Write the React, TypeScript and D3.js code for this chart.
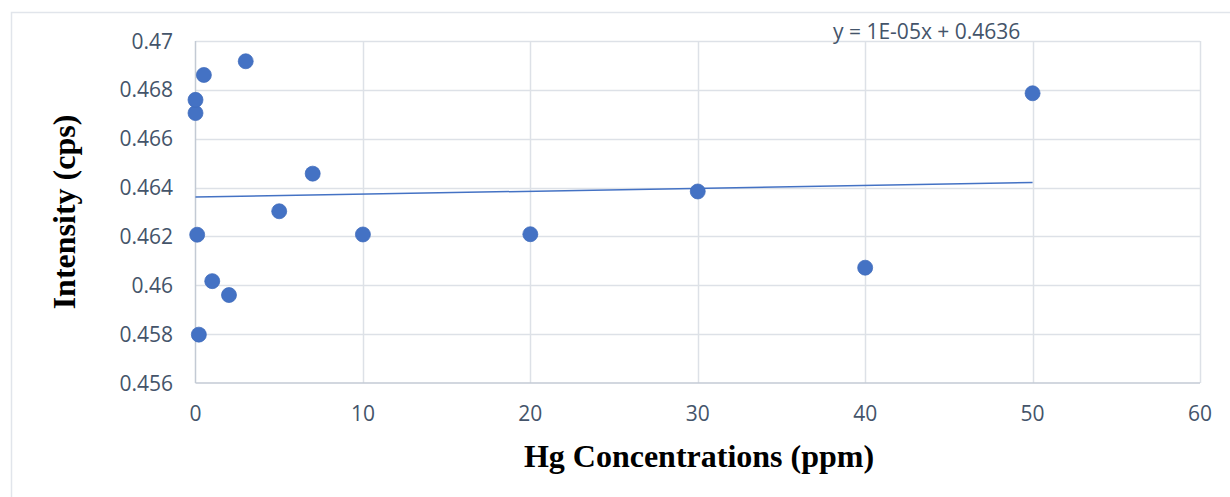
import React, { useRef, useEffect } from 'react'
import * as d3 from 'd3'

// Hg concentration (ppm) vs. intensity (cps)
const concentrations = [0, 0, 0.5, 3, 7, 5, 0.1, 10, 1, 2, 0.2, 20, 30, 40, 50]
const intensities = [
  0.46705, 0.46759, 0.46861, 0.46917, 0.46457, 0.46303, 0.46207, 0.46208, 0.46017, 0.4596,
  0.45798, 0.46209, 0.46384, 0.46072, 0.46786,
]

const xTicks = [0, 10, 20, 30, 40, 50, 60]
const yTicks = [0.456, 0.458, 0.46, 0.462, 0.464, 0.466, 0.468, 0.47]

// linear trendline (Excel)
const trendSlope = 1.2e-5
const trendIntercept = 0.46361
const trendLabel = 'y = 1E-05x + 0.4636'

const xTitle = 'Hg Concentrations (ppm)'
const yTitle = 'Intensity (cps)'

const width = 1230
const height = 497

export default function App() {
  const svgRef = useRef<SVGSVGElement>(null)

  useEffect(() => {
    if (!svgRef.current) return
    const svg = d3.select(svgRef.current)
    svg.selectAll('*').remove()

    const plot = { left: 195.5, right: 1200, top: 41, bottom: 383 }

    const x = d3.scaleLinear().domain([0, 60]).range([plot.left, plot.right])
    const y = d3.scaleLinear().domain([0.456, 0.47]).range([plot.bottom, plot.top])

    // chart frame
    svg
      .append('rect')
      .attr('x', 11.5)
      .attr('y', 12.5)
      .attr('width', width)
      .attr('height', height)
      .attr('fill', 'white')
      .attr('stroke', '#E1E5EB')
      .attr('stroke-width', 1.5)

    const grid = svg.append('g')

    // horizontal gridlines
    grid
      .selectAll('.hgrid')
      .data(yTicks.slice(1))
      .enter()
      .append('line')
      .attr('x1', plot.left)
      .attr('x2', plot.right)
      .attr('y1', d => Math.round(y(d)) + 0.5)
      .attr('y2', d => Math.round(y(d)) + 0.5)
      .attr('stroke', '#DDE1E7')
      .attr('stroke-width', 1.5)

    // vertical gridlines
    grid
      .selectAll('.vgrid')
      .data(xTicks.slice(1))
      .enter()
      .append('line')
      .attr('x1', d => Math.round(x(d)) + 0.5)
      .attr('x2', d => Math.round(x(d)) + 0.5)
      .attr('y1', plot.top)
      .attr('y2', plot.bottom)
      .attr('stroke', '#DDE1E7')
      .attr('stroke-width', 1.5)

    // axis lines
    svg
      .append('line')
      .attr('x1', plot.left)
      .attr('x2', plot.right)
      .attr('y1', plot.bottom)
      .attr('y2', plot.bottom)
      .attr('stroke', '#C3CAD4')
      .attr('stroke-width', 1.5)
    svg
      .append('line')
      .attr('x1', plot.left)
      .attr('x2', plot.left)
      .attr('y1', plot.top)
      .attr('y2', plot.bottom)
      .attr('stroke', '#C3CAD4')
      .attr('stroke-width', 1.5)

    const tickFont = '"Open Sans", sans-serif'

    // y tick labels
    svg
      .selectAll('.ytick')
      .data(yTicks)
      .enter()
      .append('text')
      .attr('x', 173)
      .attr('y', d => y(d))
      .attr('dy', '0.36em')
      .attr('text-anchor', 'end')
      .style('font-family', tickFont)
      .style('font-size', '21px')
      .style('fill', '#44546A')
      .text(d => d3.format('')(+d.toFixed(3)))

    // x tick labels
    svg
      .selectAll('.xtick')
      .data(xTicks)
      .enter()
      .append('text')
      .attr('x', d => x(d))
      .attr('y', 421)
      .attr('text-anchor', 'middle')
      .style('font-family', tickFont)
      .style('font-size', '21px')
      .style('fill', '#44546A')
      .text(d => String(d))

    // trendline
    svg
      .append('line')
      .attr('x1', x(0))
      .attr('x2', x(50))
      .attr('y1', y(trendIntercept))
      .attr('y2', y(trendIntercept + trendSlope * 50))
      .attr('stroke', '#4472C4')
      .attr('stroke-width', 1.5)

    // points
    svg
      .selectAll('.pt')
      .data(concentrations.map((c, i) => [c, intensities[i]]))
      .enter()
      .append('circle')
      .attr('cx', d => x(d[0]))
      .attr('cy', d => y(d[1]))
      .attr('r', 7.5)
      .attr('fill', '#4472C4')
      .attr('stroke', '#3F6BBB')
      .attr('stroke-width', 0.75)

    // equation
    svg
      .append('text')
      .attr('x', 833)
      .attr('y', 39)
      .style('font-family', tickFont)
      .style('font-size', '21px')
      .style('fill', '#44546A')
      .text(trendLabel)

    // axis titles
    svg
      .append('text')
      .attr('x', 699)
      .attr('y', 467)
      .attr('text-anchor', 'middle')
      .style('font-family', '"Liberation Serif", "Times New Roman", serif')
      .style('font-weight', 'bold')
      .style('font-size', '32px')
      .style('fill', '#000')
      .text(xTitle)

    svg
      .append('text')
      .attr('transform', `translate(75, 212) rotate(-90)`)
      .attr('text-anchor', 'middle')
      .style('font-family', '"Liberation Serif", "Times New Roman", serif')
      .style('font-weight', 'bold')
      .style('font-size', '32px')
      .style('fill', '#000')
      .text(yTitle)
  }, [])

  return (
    <svg
      ref={svgRef}
      width={width}
      height={height}
      style={{ position: 'absolute', left: 0, top: 0, background: '#fff' }}
    />
  )
}
